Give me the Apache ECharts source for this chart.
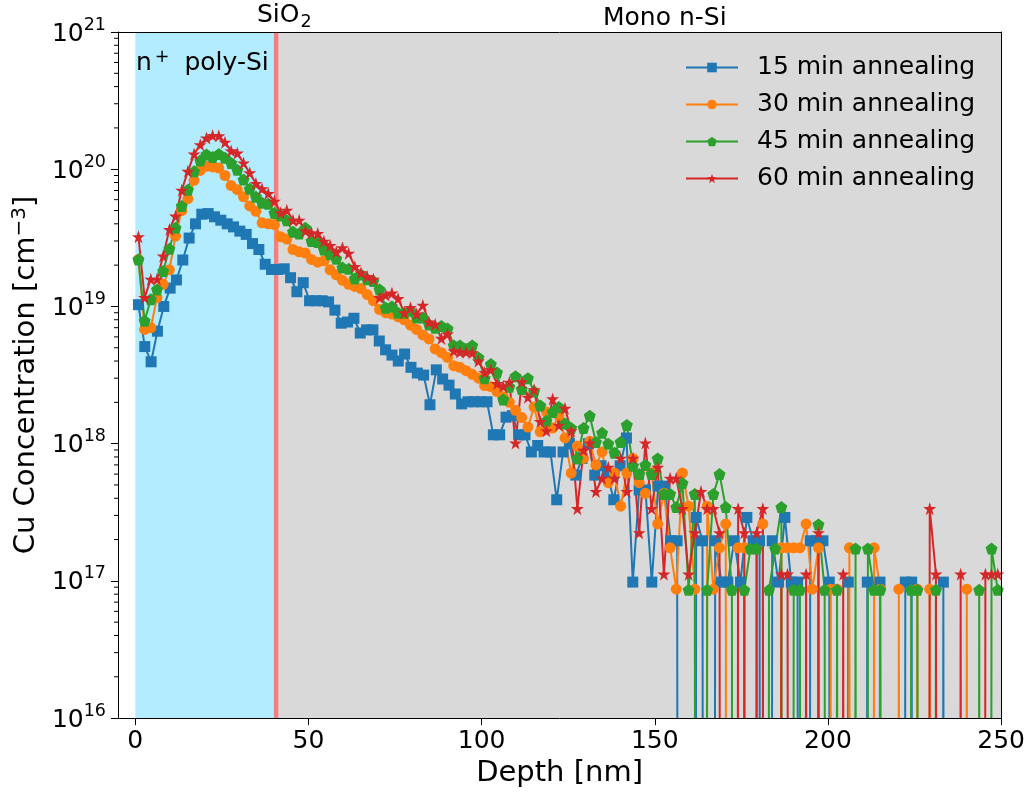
<!DOCTYPE html>
<html>
<head>
<meta charset="utf-8">
<script src="https://cdn.jsdelivr.net/npm/echarts@6/dist/echarts.min.js"></script>
<style>
html,body{margin:0;padding:0;background:#fff;}
#chart{width:1028px;height:793px;}
</style>
</head>
<body>
<div id="chart"></div>
<script>
// ---------------- data ----------------
const seriesNames = ['15 min annealing', '30 min annealing', '45 min annealing', '60 min annealing'];
const xTicks = [0, 50, 100, 150, 200, 250];
const yTickExponents = [16, 17, 18, 19, 20, 21];
const polyEnd = 40;      // nm, end of n+ poly-Si
const oxideEnd = 41.4;   // nm, end of SiO2

// depth grid of the 15 min profile (nm)
const depth15 = [0.90,2.73,4.56,6.39,8.22,10.05,11.88,13.71,15.54,17.37,19.20,21.03,22.86,24.69,26.52,28.35,30.18,32.01,33.84,35.67,
37.50,39.33,41.16,42.99,44.82,46.65,48.48,50.31,52.14,53.97,55.80,57.63,59.46,61.29,63.12,64.95,66.78,68.61,70.44,72.27,
74.10,75.93,77.76,79.59,81.42,83.25,85.08,86.91,88.74,90.57,92.40,94.23,96.06,97.89,99.72,101.55,103.38,105.21,107.04,108.87,
110.70,112.53,114.36,116.19,118.02,119.85,121.68,123.51,125.34,127.17,129.00,130.83,132.66,134.49,136.32,138.15,139.98,141.81,143.64,145.47,
147.30,149.13,150.96,152.79,154.62,156.45,158.28,160.11,161.94,163.77,165.60,167.43,169.26,171.09,172.92,174.75,176.58,178.41,180.24,182.07,
183.90,185.73,187.56,189.39,191.22,193.05,194.88,196.71,198.54,200.37,202.20,204.03,205.86,207.69,209.52,211.35,213.18,215.01,216.84,218.67,
220.50,222.33,224.16,225.99,227.82,229.65,231.48,233.31,235.14,236.97,238.80,240.63,242.46,244.29,246.12,247.95];

// depth grid of the 30/45/60 min profiles (nm)
const depthLong = [0.90,2.69,4.47,6.26,8.04,9.83,11.61,13.40,15.18,16.97,18.75,20.54,22.32,24.11,25.89,27.68,29.46,31.25,33.03,34.82,
36.60,38.39,40.17,41.96,43.74,45.53,47.31,49.10,50.88,52.67,54.45,56.24,58.02,59.81,61.59,63.38,65.16,66.95,68.73,70.52,
72.30,74.09,75.87,77.66,79.44,81.23,83.01,84.80,86.58,88.37,90.15,91.94,93.72,95.51,97.29,99.08,100.86,102.65,104.43,106.22,
108.00,109.79,111.57,113.36,115.14,116.93,118.71,120.50,122.28,124.07,125.85,127.64,129.42,131.21,132.99,134.78,136.56,138.35,140.13,141.92,
143.70,145.49,147.27,149.06,150.84,152.63,154.41,156.20,157.98,159.77,161.55,163.34,165.12,166.91,168.69,170.48,172.26,174.05,175.83,177.62,
179.40,181.19,182.97,184.76,186.54,188.33,190.11,191.90,193.68,195.47,197.25,199.04,200.82,202.61,204.39,206.18,207.96,209.75,211.53,213.32,
215.10,216.89,218.67,220.46,222.24,224.03,225.81,227.60,229.38,231.17,232.95,234.74,236.52,238.31,240.09,241.88,243.66,245.45,247.23,249.02];

// Cu concentration (cm^-3); 0 = below detection (drawn to the bottom like a log clip)
const cu15 = [1.03e19,5.1e18,3.95e18,6.6e18,1.0e19,1.36e19,1.56e19,2.18e19,3.15e19,4.0e19,
4.7e19,4.75e19,4.5e19,4.25e19,4.0e19,3.8e19,3.54e19,3.35e19,2.87e19,2.6e19,
2.03e19,1.86e19,1.86e19,1.88e19,1.62e19,1.28e19,1.49e19,1.1e19,1.1e19,1.1e19,
1.08e19,9.4e18,7.55e18,7.7e18,8.2e18,6.4e18,6.75e18,6.75e18,5.6e18,4.83e18,
4.42e18,4.0e18,4.5e18,3.6e18,3.27e18,3.16e18,1.92e18,3.45e18,2.96e18,2.67e18,
2.3e18,1.95e18,2.02e18,2.02e18,2.02e18,2.02e18,1.16e18,1.16e18,1.56e18,1.6e18,
1.16e18,1.16e18,8.7e17,9.7e17,8.7e17,8.7e17,3.9e17,8.7e17,1.0e18,5.9e17,
7.8e17,1.0e18,5.9e17,6.9e17,5.9e17,3.9e17,6.9e17,1.1e18,9.8e16,4.6e17,
4.6e17,9.8e16,4.9e17,4.9e17,1.96e17,1.96e17,0,0,2.9e17,1.96e17,
0,1.96e17,9.8e16,9.8e16,1.96e17,9.8e16,2.9e17,1.96e17,1.96e17,0,
1.96e17,9.8e16,2.9e17,9.8e16,9.8e16,0,1.96e17,1.96e17,1.96e17,9.8e16,
0,0,9.8e16,0,0,9.8e16,0,9.8e16,0,0,
0,9.8e16,9.8e16,0,0,0,0,9.8e16,0,0,
0,0,0,0,0,0];

const cu30 = [2.2e19,6.8e18,7.0e18,1.16e19,1.45e19,1.85e19,3.25e19,5.0e19,6.1e19,8.3e19,
9.8e19,1.05e20,1.04e20,1.02e20,9.0e19,7.6e19,7.1e19,6.3e19,5.4e19,4.94e19,
4.07e19,4.0e19,3.95e19,3.22e19,3.1e19,2.6e19,2.5e19,2.45e19,2.2e19,2.1e19,
2.15e19,1.85e19,1.7e19,1.55e19,1.45e19,1.4e19,1.35e19,1.22e19,1.1e19,9.5e18,
9.0e18,8.8e18,8.4e18,8.0e18,7.3e18,6.8e18,6.2e18,5.8e18,4.9e18,4.6e18,
4.25e18,3.7e18,3.6e18,3.4e18,3.2e18,3.0e18,2.65e18,2.6e18,2.4e18,2.2e18,
2.0e18,1.75e18,1.55e18,1.32e18,1.85e18,1.22e18,1.7e18,1.3e18,1.6e18,1.1e18,
6.1e17,9.6e17,7.8e17,1.04e18,7.0e17,8.7e17,5.2e17,6.1e17,3.5e17,6.1e17,
7.8e17,5.2e17,4.35e17,6.1e17,2.6e17,4.35e17,1.74e17,8.7e16,6.1e17,3.5e17,
8.7e16,0,3.5e17,8.7e16,1.74e17,2.6e17,0,1.74e17,1.74e17,0,
0,2.6e17,0,0,1.74e17,1.74e17,1.74e17,1.74e17,2.6e17,8.7e16,
1.74e17,0,8.7e16,8.7e16,0,1.74e17,0,0,0,1.74e17,
8.7e16,0,0,8.7e16,0,0,8.7e16,0,8.7e16,0,
0,0,0,0,8.7e16,0,0,0,0,0];

const cu45 = [2.2e19,7.85e18,1.13e19,1.33e19,1.81e19,2.63e19,3.74e19,5.4e19,7.1e19,9.65e19,
1.16e20,1.28e20,1.23e20,1.29e20,1.21e20,1.11e20,9.9e19,8.4e19,7.2e19,6.3e19,
5.7e19,5.6e19,4.8e19,4.6e19,4.25e19,3.5e19,3.4e19,3.74e19,3.0e19,2.95e19,
2.6e19,2.4e19,2.23e19,1.92e19,1.88e19,1.6e19,1.71e19,1.58e19,1.53e19,1.33e19,
9.8e18,1.0e19,9.0e18,9.0e18,9.3e18,8.3e18,8.3e18,7.4e18,7.0e18,7.2e18,
6.9e18,5.2e18,5.2e18,4.9e18,5.2e18,4.25e18,3.0e18,3.8e18,3.3e18,2.1e18,
2.6e18,3.1e18,2.5e18,3.0e18,2.4e18,1.9e18,1.47e18,1.7e18,1.85e18,1.4e18,
1.3e18,7.8e17,1.3e18,1.6e18,1.03e18,1.2e18,1.0e18,8.6e17,1.03e18,1.37e18,
6.9e17,6.0e17,7.0e17,6.0e17,7.8e17,4.3e17,4.3e17,3.45e17,5.16e17,8.6e16,
4.3e17,0,8.6e16,4.3e17,6.0e17,3.45e17,8.6e16,0,8.6e16,1.72e17,
1.72e17,0,8.6e16,1.72e17,3.45e17,0,8.6e16,8.6e16,0,0,
2.58e17,8.6e16,0,8.6e16,0,0,1.72e17,0,1.72e17,8.6e16,
8.6e16,0,0,0,0,8.6e16,8.6e16,0,0,8.6e16,
0,0,0,0,0,0,8.6e16,0,1.72e17,8.6e16];

const cu60 = [3.22e19,1.16e19,1.58e19,1.58e19,2.33e19,3.64e19,4.55e19,7.03e19,9.65e19,1.29e20,
1.51e20,1.69e20,1.76e20,1.75e20,1.57e20,1.36e20,1.31e20,1.11e20,9.4e19,7.86e19,
7.2e19,6.65e19,5.85e19,4.81e19,5.03e19,4.25e19,4.25e19,3.54e19,3.44e19,3.4e19,
2.99e19,2.78e19,2.49e19,2.68e19,2.44e19,1.95e19,1.76e19,1.65e19,1.58e19,1.16e19,
1.21e19,1.25e19,1.14e19,9.0e18,9.8e18,8.8e18,1.02e19,7.7e18,7.4e18,5.85e18,
6.3e18,4.75e18,4.65e18,4.65e18,4.6e18,4.0e18,3.3e18,3.45e18,2.74e18,2.62e18,
2.8e18,1.01e18,2.82e18,2.18e18,2.47e18,1.45e18,1.24e18,2.12e18,1.36e18,1.81e18,
1.24e18,3.36e17,8.96e17,1.01e18,4.48e17,5.6e17,6.72e17,5.6e17,7.84e17,4.48e17,
7.84e17,2.24e17,1.01e18,3.36e17,6.72e17,1.12e17,5.6e17,5.6e17,3.36e17,1.12e17,
2.24e17,4.48e17,3.36e17,3.36e17,2.24e17,0,0,3.36e17,2.24e17,0,
2.24e17,3.36e17,0,0,1.12e17,1.12e17,0,0,1.12e17,0,
2.24e17,0,0,0,1.12e17,0,0,0,0,0,
0,0,0,0,0,0,0,0,3.36e17,1.12e17,
0,0,0,1.12e17,0,0,0,1.12e17,1.12e17,1.12e17];

// ---------------- chart ----------------
const FONT = 'DejaVu Sans';
const BELOW = 1e-30; // non-positive values are clipped far below the axis, as a log plot does
const colors = ['#1f77b4', '#ff7f0e', '#2ca02c', '#d62728'];
const PENTAGON = 'path://M0,-1L0.951,-0.309L0.588,0.809L-0.588,0.809L-0.951,-0.309Z';
const STAR = 'path://M0,-1L0.2245,-0.309L0.951,-0.309L0.3633,0.118L0.588,0.809L0,0.382L-0.588,0.809L-0.3633,0.118L-0.951,-0.309L-0.2245,-0.309Z';
const symbols = ['rect', 'circle', PENTAGON, STAR];
const symbolSizes = [11, 11, 12, 13];
const xs = [depth15, depthLong, depthLong, depthLong];
const ys = [cu15, cu30, cu45, cu60];

const X_MIN = -5, X_MAX = 250;
const Y_MIN = Math.pow(10, yTickExponents[0]);
const Y_MAX = Math.pow(10, yTickExponents[yTickExponents.length - 1]);

const minorTicks = [];
for (let e = yTickExponents[0]; e < yTickExponents[yTickExponents.length - 1]; e++) {
  for (let m = 2; m <= 9; m++) minorTicks.push([X_MIN, m * Math.pow(10, e)]);
}

const dataSeries = seriesNames.map((name, k) => ({
  name: name,
  type: 'line',
  data: xs[k].map((d, i) => [d, ys[k][i] > 0 ? ys[k][i] : BELOW]),
  symbol: symbols[k],
  symbolSize: symbolSizes[k],
  showAllSymbol: true,
  clip: true,
  lineStyle: { width: 2, color: colors[k] },
  itemStyle: { color: colors[k], borderWidth: 0 },
  emphasis: { disabled: true },
  z: 3
}));

const bgSeries = {
  name: '_layers',
  type: 'line',
  data: [],
  silent: true,
  z: 1,
  markArea: {
    silent: true,
    data: [
      [{ xAxis: 0, itemStyle: { color: '#b3ecff' } }, { xAxis: polyEnd }],
      [{ xAxis: polyEnd, itemStyle: { color: '#f28080' } }, { xAxis: oxideEnd }],
      [{ xAxis: oxideEnd, itemStyle: { color: '#d9d9d9' } }, { xAxis: X_MAX }]
    ]
  }
};

const minorSeries = {
  type: 'custom',
  data: minorTicks,
  silent: true,
  clip: false,
  z: 6,
  renderItem: function (params, api) {
    const p = api.coord([api.value(0), api.value(1)]);
    return {
      type: 'line',
      shape: { x1: p[0] - 4, y1: p[1], x2: p[0], y2: p[1] },
      style: { stroke: '#000', lineWidth: 1 }
    };
  }
};

const TICK_FS = 25, SUP_FS = 17.5, TITLE_FS = 29;

const chart = echarts.init(document.getElementById('chart'), null, { renderer: 'canvas' });
chart.setOption({
  animation: false,
  backgroundColor: '#fff',
  textStyle: { fontFamily: FONT },
  color: colors,
  grid: { left: 118, right: 26, top: 32, bottom: 73, containLabel: false },
  legend: {
    data: seriesNames,
    orient: 'vertical',
    left: 680,
    top: 50,
    itemWidth: 52,
    itemHeight: 12,
    itemGap: 12,
    selectedMode: false,
    textStyle: { fontSize: TICK_FS, color: '#000', fontFamily: FONT, padding: [0, 0, 0, 14] }
  },
  xAxis: [{
    type: 'value', min: X_MIN, max: X_MAX, position: 'bottom', z: 5,
    axisLine: { show: true, onZero: false, lineStyle: { color: '#000', width: 1 } },
    axisTick: { show: true, length: 7, customValues: xTicks, lineStyle: { color: '#000', width: 1 } },
    axisLabel: { customValues: xTicks, fontSize: TICK_FS, color: '#000', fontFamily: FONT, margin: 11 },
    splitLine: { show: false },
    name: 'Depth [nm]', nameLocation: 'middle', nameGap: 38,
    nameTextStyle: { fontSize: TITLE_FS, color: '#000', fontFamily: FONT }
  }, {
    type: 'value', min: X_MIN, max: X_MAX, position: 'top', z: 5,
    axisLine: { show: true, onZero: false, lineStyle: { color: '#000', width: 1 } },
    axisTick: { show: false }, axisLabel: { show: false }, splitLine: { show: false }
  }],
  yAxis: [{
    type: 'log', logBase: 10, min: Y_MIN, max: Y_MAX, position: 'left', z: 5,
    axisLine: { show: true, onZero: false, lineStyle: { color: '#000', width: 1 } },
    axisTick: { show: true, length: 7, lineStyle: { color: '#000', width: 1 } },
    axisLabel: {
      margin: 12, color: '#000',
      formatter: function (v) { return '{b|10}{s|' + Math.round(Math.log10(v)) + '}'; },
      rich: {
        b: { fontSize: TICK_FS, color: '#000', fontFamily: FONT, padding: [4, 0, 0, 0] },
        s: { fontSize: SUP_FS, color: '#000', fontFamily: FONT, padding: [0, 0, 14, 0] }
      }
    },
    splitLine: { show: false },
    name: 'Cu Concentration [cm{s|\u22123}]', nameLocation: 'middle', nameGap: 70,
    nameTextStyle: {
      fontSize: TITLE_FS, color: '#000', fontFamily: FONT,
      rich: { s: { fontSize: 20, color: '#000', fontFamily: FONT, padding: [0, 0, 14, 0] } }
    }
  }, {
    type: 'log', logBase: 10, min: Y_MIN, max: Y_MAX, position: 'right', z: 5,
    axisLine: { show: true, onZero: false, lineStyle: { color: '#000', width: 1 } },
    axisTick: { show: false }, axisLabel: { show: false }, splitLine: { show: false }
  }],
  graphic: [
    {
      type: 'text', left: 136, top: 48, z: 10,
      style: {
        text: '{a|n}{p|+}{a| poly-Si}',
        rich: {
          a: { fontSize: TICK_FS, fill: '#000', fontFamily: FONT },
          p: { fontSize: SUP_FS, fill: '#000', fontFamily: FONT, padding: [0, 7, 12, 3] }
        }
      }
    },
    {
      type: 'text', left: 257, top: 3, z: 10,
      style: {
        text: '{a|SiO}{d|2}',
        rich: {
          a: { fontSize: TICK_FS, fill: '#000', fontFamily: FONT },
          d: { fontSize: SUP_FS, fill: '#000', fontFamily: FONT, padding: [14, 0, 0, 1] }
        }
      }
    },
    {
      type: 'text', left: 603, top: 6, z: 10,
      style: { text: 'Mono n-Si', fontSize: TICK_FS, fill: '#000', fontFamily: FONT }
    }
  ],
  series: [bgSeries].concat(dataSeries).concat([minorSeries])
});
</script>
</body>
</html>
